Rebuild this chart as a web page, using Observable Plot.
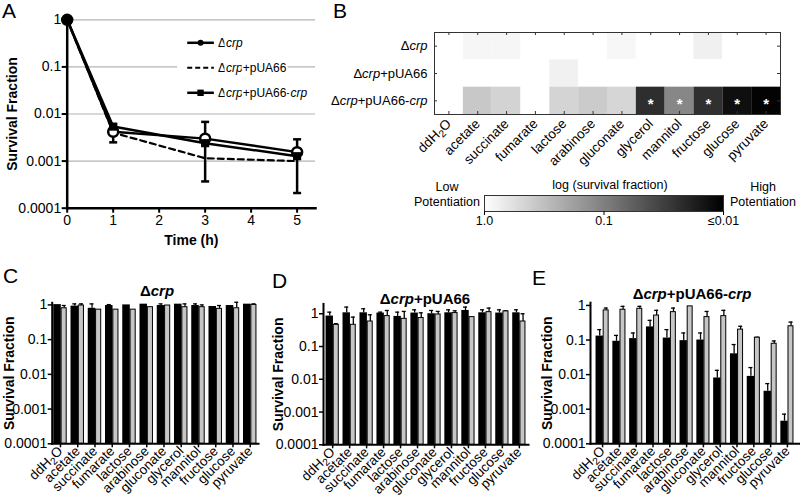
<!DOCTYPE html>
<html>
<head>
<meta charset="utf-8">
<script src="https://cdn.jsdelivr.net/npm/d3@7"></script>
<script src="https://cdn.jsdelivr.net/npm/@observablehq/plot@0.6"></script>
<style>
html,body{margin:0;padding:0;background:#fff;}
#root{position:relative;width:800px;height:498px;overflow:hidden;background:#fff;color:#000;font-family:"Liberation Sans",Arial,Helvetica,sans-serif;}
#root .txt{position:absolute;white-space:nowrap;line-height:1;}
#root svg{overflow:visible;}
#root g[aria-label="y-axis label"] text, #root g[aria-label="x-axis label"] text,
#root g[aria-label="y-axis label"], #root g[aria-label="x-axis label"]{font-weight:bold;}
</style>
</head>
<body>
<div id="root"></div>
<script>
// ---------- Panel A data ----------
const times = [0, 1, 3, 5];
const seriesA = ["Δcrp", "Δcrp+pUA66", "Δcrp+pUA66-crp"];
const survCrp = [1, 0.0042, 0.0030, 0.00155];
const survPUA66 = [1, 0.0040, 0.00115, 0.0010];
const survPUA66crp = [1, 0.0054, 0.0024, 0.00127];
const errLowPUA66 = [null, 0.0025, 0.00037, 0.00021];
const errHighPUA66 = [null, 0.006, 0.0068, 0.0029];
const xTicksA = [0, 1, 2, 3, 4, 5];
const yTicks = [1, 0.1, 0.01, 0.001, 0.0001];
const yTickLabels = ["1", "0.1", "0.01", "0.001", "0.0001"];

// ---------- Panel B data ----------
const sources = ["ddH2O", "acetate", "succinate", "fumarate", "lactose", "arabinose",
  "gluconate", "glycerol", "mannitol", "fructose", "glucose", "pyruvate"];
const heatRows = ["Δcrp", "Δcrp+pUA66", "Δcrp+pUA66-crp"];
const heatCrp = [1, 0.85, 0.85, 1, 1, 1, 0.86, 1, 1, 0.76, 1, 1];
const heatPUA66 = [1, 1, 1, 1, 0.78, 1, 1, 1, 1, 1, 1, 1];
const heatPUA66crp = [1, 0.37, 0.45, 1, 0.46, 0.39, 0.48, 0.023, 0.114, 0.024, 0.013, 0.0106];
const significant = [false, false, false, false, false, false, false, true, true, true, true, true];
const colorbarTicks = [1, 0.1, 0.01];
const colorbarTickLabels = ["1.0", "0.1", "≤0.01"];

// ---------- Panels C, D, E data (black = without, gray = with) ----------
const cBlack = [1.02, 0.92, 0.80, 0.96, 1.0, 1.05, 0.96, 1.05, 0.96, 0.90, 0.96, 1.05];
const cBlackErr = [null, 1.07, 1.07, 1.02, null, null, 1.07, null, 1.07, null, null, null];
const cGray = [0.80, 0.96, 0.73, 0.73, 0.73, 0.86, 0.96, 0.86, 0.86, 0.77, 0.80, 1.0];
const cGrayErr = [0.96, 1.07, null, null, null, null, null, 1.07, 1.0, 0.96, 1.19, 1.07];

const dBlack = [0.85, 1.07, 1.07, 1.05, 0.83, 1.05, 1.0, 1.07, 1.26, 1.07, 1.05, 1.07];
const dBlackErr = [1.12, 1.6, 1.42, 1.12, 1.12, 1.32, 1.26, 1.32, 1.6, 1.32, 1.32, 1.32];
const dGray = [0.46, 0.46, 0.58, 0.85, 0.70, 0.74, 0.95, 1.05, 0.79, 1.12, 1.18, 0.58];
const dGrayErr = [0.5, 0.79, 0.93, 1.26, 1.18, 1.07, 1.18, 1.23, null, 1.49, 1.23, 1.0];

const eBlack = [0.13, 0.092, 0.11, 0.24, 0.114, 0.096, 0.10, 0.008, 0.04, 0.0089, 0.0033, 0.00045];
const eBlackErr = [0.20, 0.136, 0.16, 0.37, 0.20, 0.16, 0.16, 0.0133, 0.074, 0.016, 0.0055, 0.00072];
const eGray = [0.72, 0.75, 0.80, 0.51, 0.64, 0.94, 0.46, 0.49, 0.20, 0.117, 0.078, 0.25];
const eGrayErr = [0.84, 0.94, 0.94, 0.72, 0.84, null, 0.67, 0.72, 0.25, 0.12, 0.094, 0.33];

const panelTitles = ["Δcrp", "Δcrp+pUA66", "Δcrp+pUA66-crp"];
const panelLetters = ["A", "B", "C", "D", "E"];

// ---------- helpers ----------
const FONT = '"Liberation Sans", Arial, Helvetica, sans-serif';
const root = document.getElementById("root");
const YMIN = 0.0001;
const fmtY = d => yTickLabels[yTicks.indexOf(d)] ?? String(d);

function mount(svg, left, top) {
  svg.style.position = "absolute";
  svg.style.left = left + "px";
  svg.style.top = top + "px";
  root.appendChild(svg);
}
function richHTML(s) {
  return s.replace(/crp/g, "<i>crp</i>").replace("ddH2O", "ddH<sub>2</sub>O");
}
function label(text, x, baseline, {size = 13, weight = "normal", align = "left"} = {}) {
  const d = document.createElement("div");
  d.className = "txt";
  d.innerHTML = richHTML(text);
  d.style.fontSize = size + "px";
  d.style.fontWeight = weight;
  d.style.left = x + "px";
  d.style.top = (baseline - 0.8465 * size) + "px";
  if (align === "center") d.style.transform = "translateX(-50%)";
  root.appendChild(d);
}
function richSVGText(el) {
  if (el.children.length) return;
  const s = el.textContent;
  if (!/crp|ddH2O/.test(s)) return;
  el.textContent = "";
  const NS = "http://www.w3.org/2000/svg";
  const ts = (t) => { const n = document.createElementNS(NS, "tspan"); n.textContent = t; return n; };
  for (const p of s.split(/(crp|ddH2O)/)) {
    if (!p) continue;
    if (p === "crp") { const t = ts(p); t.setAttribute("font-style", "italic"); el.appendChild(t); }
    else if (p === "ddH2O") {
      el.appendChild(ts("ddH"));
      const sub = ts("2"); sub.setAttribute("font-size", "75%"); sub.setAttribute("dy", "0.3em"); el.appendChild(sub);
      const o = ts("O"); o.setAttribute("dy", "-0.225em"); el.appendChild(o);
    } else el.appendChild(document.createTextNode(p));
  }
}
const baseStyle = {fontFamily: FONT, fontSize: "13px", background: "none", overflow: "visible", color: "black"};

// ---------- Panel A ----------
{
  const vals = [survCrp, survPUA66, survPUA66crp];
  const rows = seriesA.flatMap((s, k) => times.map((t, i) => ({series: s, t, v: vals[k][i]})));
  const bySeries = k => rows.filter(d => d.series === seriesA[k]);
  const errRows = times.map((t, i) => ({t, lo: errLowPUA66[i], hi: errHighPUA66[i]})).filter(d => d.lo != null);
  const capSym = {draw(ctx, size) { const w = Math.sqrt(size / Math.PI); ctx.moveTo(-w, 0); ctx.lineTo(w, 0); }};
  // legend placement (in data coordinates of the panel)
  const legY = [0.325, 0.096, 0.0282];
  const legPad = 2.39, legL1 = 2.61, legL2 = 3.19, legText = 3.28;
  const svg = Plot.plot({
    width: 330, height: 250,
    marginLeft: 66.7, marginRight: 15, marginTop: 19.3, marginBottom: 42.3,
    style: baseStyle,
    x: {domain: [0, 5.4]},
    y: {type: "log", domain: [YMIN, 1]},
    marks: [
      Plot.ruleY(yTicks.slice(0, 4), {stroke: "#b4b4b4", strokeWidth: 1.2}),
      Plot.link(seriesA, {x1: () => legPad, x2: () => legText, y1: (d, i) => legY[i], y2: (d, i) => legY[i], stroke: "white", strokeWidth: 12}),
      Plot.line(bySeries(1), {x: "t", y: "v", stroke: "black", strokeWidth: 2.2, strokeDasharray: "6,4"}),
      Plot.line(bySeries(0), {x: "t", y: "v", stroke: "black", strokeWidth: 2.5}),
      Plot.line(bySeries(2), {x: "t", y: "v", stroke: "black", strokeWidth: 2.5}),
      Plot.ruleX(errRows, {x: "t", y1: "lo", y2: "hi", stroke: "black", strokeWidth: 2.5}),
      Plot.dot(errRows, {x: "t", y: "lo", symbol: capSym, r: 4, stroke: "black", strokeWidth: 2.5}),
      Plot.dot(errRows, {x: "t", y: "hi", symbol: capSym, r: 4, stroke: "black", strokeWidth: 2.5}),
      Plot.dot(bySeries(0), {x: "t", y: "v", r: 5, fill: "white", stroke: "black", strokeWidth: 2.5}),
      Plot.dot(bySeries(2), {x: "t", y: "v", symbol: "square", r: 4.6, fill: "black"}),
      // legend
      Plot.link([seriesA[0], seriesA[2]], {x1: () => legL1, x2: () => legL2, y1: d => legY[seriesA.indexOf(d)], y2: d => legY[seriesA.indexOf(d)], stroke: "black", strokeWidth: 2.5}),
      Plot.link([seriesA[1]], {x1: () => legL1, x2: () => legL2, y1: () => legY[1], y2: () => legY[1], stroke: "black", strokeWidth: 2.2, strokeDasharray: "5,3"}),
      Plot.dot([seriesA[0]], {x: () => (legL1 + legL2) / 2, y: () => legY[0], r: 3, fill: "black"}),
      Plot.dot([seriesA[2]], {x: () => (legL1 + legL2) / 2, y: () => legY[2], symbol: "square", r: 3.6, fill: "black"}),
      Plot.text(seriesA, {x: () => legText, y: (d, i) => legY[i], text: d => d, textAnchor: "start", fontSize: 12, fill: "black", stroke: "white", strokeWidth: 4}),
      Plot.frame({anchor: "left", stroke: "black", strokeWidth: 2.5}),
      Plot.frame({anchor: "bottom", stroke: "black", strokeWidth: 2.5}),
      Plot.axisY({ticks: yTicks, tickFormat: fmtY, tickSize: 5, tickPadding: 1, strokeWidth: 2, fontSize: 14,
        label: "Survival Fraction", labelAnchor: "center", labelOffset: 60, labelArrow: "none"}),
      Plot.axisX({ticks: xTicksA, tickFormat: d => String(d), tickSize: 5, tickPadding: 2, strokeWidth: 2, fontSize: 14,
        label: "Time (h)", labelAnchor: "center", labelOffset: 37, labelArrow: "none"})
    ]
  });
  mount(svg, 0, 0);
}

// ---------- Panel B heatmap ----------
const colorScale = {type: "log", domain: [1, 0.01], range: ["#ffffff", "#000000"], interpolate: "rgb", clamp: true};
{
  const vals = [heatCrp, heatPUA66, heatPUA66crp];
  const cells = heatRows.flatMap((r, k) => sources.map((s, i) => ({row: r, source: s, value: vals[k][i], sig: k === 2 && significant[i]})));
  const W = 470, H = 190, ml = 104, mr = 20, mt = 32, mb = 76;
  const colW = (W - ml - mr) / sources.length, rowH = (H - mt - mb) / heatRows.length;
  const svg = Plot.plot({
    width: W, height: H, marginLeft: ml, marginRight: mr, marginTop: mt, marginBottom: mb,
    style: baseStyle,
    x: {domain: sources, padding: 0, round: false},
    y: {domain: heatRows, padding: 0, round: false},
    color: colorScale,
    marks: [
      Plot.cell(cells, {x: "source", y: "row", fill: "value"}),
      Plot.text(cells.filter(d => d.sig), {x: "source", y: "row", text: () => "*", fill: "white", fontSize: 15, fontWeight: "bold", dy: 3}),
      Plot.frame({stroke: "#333", strokeWidth: 1}),
      Plot.tickX(sources, {x: d => d, y: () => heatRows[0], insetBottom: rowH - 3, stroke: "#333"}),
      Plot.tickX(sources, {x: d => d, y: () => heatRows[2], insetTop: rowH - 3, stroke: "#333"}),
      Plot.tickY(heatRows, {y: d => d, x: () => sources[0], insetRight: colW - 3, stroke: "#333"}),
      Plot.tickY(heatRows, {y: d => d, x: () => sources[sources.length - 1], insetLeft: colW - 3, stroke: "#333"}),
      Plot.axisX({tickRotate: -45, tickSize: 0, tickPadding: 7, fontSize: 13.5, label: null}),
      Plot.axisY({tickSize: 0, tickPadding: 7, fontSize: 13, label: null})
    ]
  });
  mount(svg, 330, 0);

  // colour bar
  const bar = Plot.plot({
    width: 260, height: 45, marginLeft: 10, marginRight: 11, marginTop: 5, marginBottom: 24,
    style: baseStyle,
    x: {domain: [0, 2]},
    y: {domain: [0, 1], axis: null},
    color: colorScale,
    marks: [
      Plot.raster({x1: 0, x2: 2, y1: 0, y2: 1, width: 240, height: 1, fill: (x) => Math.pow(10, -x), imageRendering: "auto"}),
      Plot.frame({stroke: "#333", strokeWidth: 1}),
      Plot.axisX({ticks: colorbarTicks.map(v => -Math.log10(v)), tickFormat: (d) => colorbarTickLabels[Math.round(d)], tickSize: 4, tickPadding: 1, fontSize: 12.5, label: null})
    ]
  });
  mount(bar, 474, 190);
  label("log (survival fraction)", 610, 190, {size: 12.5, align: "center"});
  label("Low", 447, 191.5, {size: 12.5, align: "center"});
  label("Potentiation", 447, 206.5, {size: 12.5, align: "center"});
  label("High", 763, 191.5, {size: 12.5, align: "center"});
  label("Potentiation", 763, 206.5, {size: 12.5, align: "center"});
}

// ---------- Panels C, D, E ----------
function barPanel({black, blackErr, gray, grayErr, W, H, ml, mr, mt, mb, top, po, labelOffset}) {
  const pi = 0.22;
  const xScale = {domain: sources, paddingInner: pi, paddingOuter: po, round: false};
  const dims = {width: W, height: H, marginLeft: ml, marginRight: mr, marginTop: mt, marginBottom: mb};
  // read the band width that Plot actually uses for this layout
  const probe = Plot.plot({...dims, x: xScale, marks: [Plot.barY(sources, {x: d => d, y: () => 1})]});
  const bw = probe.scale("x").bandwidth;
  const fb = 0.56; // share of the group taken by the black bar
  const cb = bw * fb / 2, cg = bw * (1 + fb) / 2; // bar centres within the band
  const rows = sources.map((s, i) => ({s, black: black[i], blackErr: blackErr[i], gray: gray[i], grayErr: grayErr[i]}));
  const be = rows.filter(d => d.blackErr != null), ge = rows.filter(d => d.grayErr != null);
  return Plot.plot({
    ...dims,
    style: baseStyle,
    x: xScale,
    y: {type: "log", domain: [YMIN, top]},
    marks: [
      Plot.ruleX(be, {x: "s", y1: "black", y2: "blackErr", dx: cb - bw / 2, stroke: "black", strokeWidth: 1.3}),
      Plot.tickY(be, {x: "s", y: "blackErr", insetLeft: cb - 2, insetRight: bw - cb - 2, stroke: "black", strokeWidth: 1.3}),
      Plot.ruleX(ge, {x: "s", y1: "gray", y2: "grayErr", dx: cg - bw / 2, stroke: "black", strokeWidth: 1.3}),
      Plot.tickY(ge, {x: "s", y: "grayErr", insetLeft: cg - 2, insetRight: bw - cg - 2, stroke: "black", strokeWidth: 1.3}),
      Plot.barY(rows, {x: "s", y1: YMIN, y2: "black", fill: "black", insetRight: bw * (1 - fb)}),
      Plot.barY(rows, {x: "s", y1: YMIN, y2: "gray", fill: "#c6c6c6", stroke: "black", strokeWidth: 1, insetLeft: bw * fb + 0.3, insetRight: 0.5}),
      Plot.frame({anchor: "left", stroke: "black", strokeWidth: 2}),
      Plot.frame({anchor: "bottom", stroke: "black", strokeWidth: 2}),
      Plot.axisY({ticks: yTicks, tickFormat: fmtY, tickSize: 4, tickPadding: 1, strokeWidth: 1.5, fontSize: 14,
        label: "Survival Fraction", labelAnchor: "center", labelOffset, labelArrow: "none"}),
      Plot.axisX({tickRotate: -45, tickSize: 4, tickPadding: 1, strokeWidth: 1.5, fontSize: 13.5, label: null})
    ]
  });
}
mount(barPanel({black: cBlack, blackErr: cBlackErr, gray: cGray, grayErr: cGrayErr,
  W: 270, H: 248, ml: 51.7, mr: 12, mt: 52.3, mb: 54.7, top: 1.15, po: 0.09, labelOffset: 48}), 0, 250);
mount(barPanel({black: dBlack, blackErr: dBlackErr, gray: dGray, grayErr: dGrayErr,
  W: 260, H: 248, ml: 53, mr: 2, mt: 53.4, mb: 53.7, top: 2, po: 0.15, labelOffset: 50}), 270, 250);
mount(barPanel({black: eBlack, blackErr: eBlackErr, gray: eGray, grayErr: eGrayErr,
  W: 270, H: 248, ml: 60, mr: 1, mt: 52.2, mb: 54.7, top: 1.2, po: 0.33, labelOffset: 48}), 530, 250);

label(panelTitles[0], 157, 295.7, {size: 15, weight: "bold", align: "center"});
label(panelTitles[1], 425, 303.7, {size: 15, weight: "bold", align: "center"});
label(panelTitles[2], 692, 298.7, {size: 15, weight: "bold", align: "center"});

// panel letters
const letterPos = [[2, 18], [333, 18], [3, 283], [272, 288], [532, 285]];
panelLetters.forEach((L, i) => label(L, letterPos[i][0], letterPos[i][1], {size: 21}));

root.querySelectorAll("svg text").forEach(richSVGText);
</script>
</body>
</html>
